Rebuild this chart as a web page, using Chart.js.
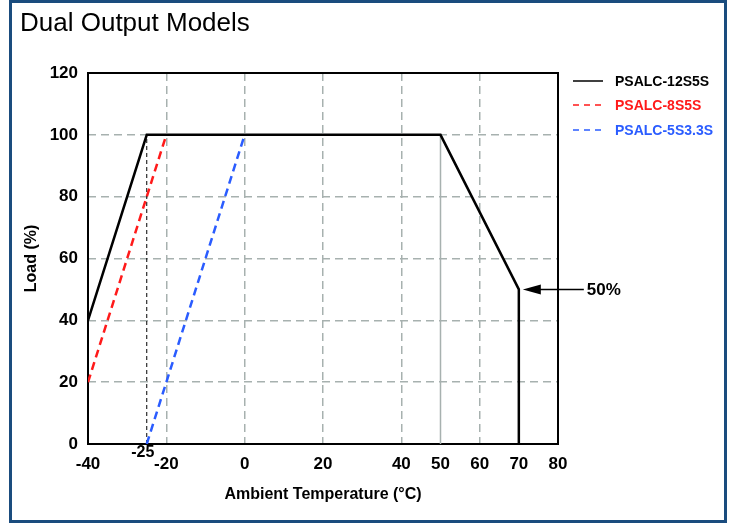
<!DOCTYPE html>
<html>
<head>
<meta charset="utf-8">
<title>Dual Output Models</title>
<script src="https://cdn.jsdelivr.net/npm/chart.js@4.4.1/dist/chart.umd.min.js"></script>
<style>
    html, body { margin: 0; padding: 0; background: #fff; }
    .wrap { position: relative; width: 733px; height: 523px; }
    .frame {
        position: absolute; left: 9px; top: 0; width: 712px; height: 517px;
        border: 3px solid #1a4c7e; pointer-events: none;
    }
    canvas { position: absolute; left: 0; top: 0; }
</style>
</head>
<body>
<div class="wrap">
    <canvas id="derating" width="733" height="523"></canvas>
    <div class="frame"></div>
</div>
<script>
// values
const chartTitle = 'Dual Output Models';
const seriesNames = ['PSALC-12S5S', 'PSALC-8S5S', 'PSALC-5S3.3S'];
const seriesColors = ['#000000', '#ff1a1a', '#2a5cff'];

const temp12 = [-40, -25, 50, 70, 70];
const load12 = [40, 100, 100, 50, 0];
const temp8 = [-40, -20];
const load8 = [20, 100];
const temp5 = [-25, 0];
const load5 = [0, 100];

// helper lines: drop at -25 °C and full-load limit at 50 °C
const dropTemp = [-25, -25];
const dropLoad = [0, 100];
const limitTemp = [50, 50];
const limitLoad = [0, 100];

const xTicks = [-40, -20, 0, 20, 40, 50, 60, 70, 80];
const yTicks = [0, 20, 40, 60, 80, 100, 120];
const hiddenXGrid = [-40, 50, 70, 80];
const extraXLabel = { value: -25, text: '-25' };
const arrowPoint = { x: 70, y: 50, text: '50%' };

const FONT = '"Liberation Sans", Arial, Helvetica, sans-serif';
const GRID = '#a7b1af';

const toPoints = (xs, ys) => xs.map((x, i) => ({ x, y: ys[i] }));

const extras = {
    id: 'extras',
    beforeDatasetsDraw(chart) {
        const { ctx, chartArea: a } = chart;
        ctx.save();
        ctx.strokeStyle = '#000';
        ctx.lineWidth = 2;
        ctx.strokeRect(a.left, a.top, a.right - a.left, a.bottom - a.top);
        ctx.restore();
    },
    afterDraw(chart) {
        const { ctx, scales } = chart;
        const x = scales.x;
        const y = scales.y;
        ctx.save();

        // title
        ctx.fillStyle = '#000';
        ctx.font = `26px ${FONT}`;
        ctx.textAlign = 'left';
        ctx.textBaseline = 'middle';
        ctx.fillText(chartTitle, 20, 24);

        // extra -25 label under the drop line
        ctx.font = `bold 16px ${FONT}`;
        ctx.textAlign = 'center';
        ctx.fillText(extraXLabel.text, x.getPixelForValue(extraXLabel.value) - 4, y.bottom + 9);

        // arrow pointing at the 50 % corner
        const tipX = x.getPixelForValue(arrowPoint.x) + 4;
        const tipY = y.getPixelForValue(arrowPoint.y);
        ctx.strokeStyle = '#000';
        ctx.lineWidth = 1.5;
        ctx.beginPath();
        ctx.moveTo(tipX + 12, tipY);
        ctx.lineTo(tipX + 61, tipY);
        ctx.stroke();
        ctx.beginPath();
        ctx.moveTo(tipX, tipY);
        ctx.lineTo(tipX + 18, tipY - 5);
        ctx.lineTo(tipX + 18, tipY + 5);
        ctx.closePath();
        ctx.fill();
        ctx.font = `bold 17px ${FONT}`;
        ctx.textAlign = 'left';
        ctx.fillText(arrowPoint.text, tipX + 64, tipY + 1);

        // legend
        const legendX = 573;
        const legendY = [81, 105, 130];
        chart.data.datasets.slice(0, 3).forEach((ds, i) => {
            ctx.strokeStyle = ds.borderColor;
            ctx.lineWidth = 1.5;
            ctx.setLineDash(i === 0 ? [] : [6, 5]);
            ctx.beginPath();
            ctx.moveTo(legendX, legendY[i]);
            ctx.lineTo(legendX + 30, legendY[i]);
            ctx.stroke();
            ctx.setLineDash([]);
            ctx.fillStyle = ds.borderColor;
            ctx.font = `bold 14px ${FONT}`;
            ctx.fillText(ds.label, legendX + 42, legendY[i] + 1);
        });
        ctx.restore();
    },
};

new Chart(document.getElementById('derating'), {
    type: 'line',
    data: {
        datasets: [
            {
                label: seriesNames[0],
                data: toPoints(temp12, load12),
                borderColor: seriesColors[0],
                borderWidth: 2.5,
                borderJoinStyle: 'miter',
                pointRadius: 0,
                order: 1,
            },
            {
                label: seriesNames[1],
                data: toPoints(temp8, load8),
                borderColor: seriesColors[1],
                borderWidth: 2.5,
                borderDash: [8, 5],
                pointRadius: 0,
                order: 2,
            },
            {
                label: seriesNames[2],
                data: toPoints(temp5, load5),
                borderColor: seriesColors[2],
                borderWidth: 2.5,
                borderDash: [8, 5],
                pointRadius: 0,
                order: 3,
            },
            {
                label: 'drop',
                data: toPoints(dropTemp, dropLoad),
                borderColor: '#000',
                borderWidth: 1,
                borderDash: [4, 3],
                pointRadius: 0,
                order: 4,
            },
            {
                label: 'limit',
                data: toPoints(limitTemp, limitLoad),
                borderColor: GRID,
                borderWidth: 1.5,
                pointRadius: 0,
                order: 5,
            },
        ],
    },
    options: {
        responsive: false,
        animation: false,
        events: [],
        layout: {
            padding: { left: 20, top: 73, right: 175, bottom: 10 },
        },
        plugins: {
            legend: { display: false },
            tooltip: { enabled: false },
        },
        scales: {
            x: {
                type: 'linear',
                min: -40,
                max: 80,
                afterBuildTicks: (scale) => {
                    scale.ticks = xTicks.map((value) => ({ value }));
                },
                afterFit: (scale) => {
                    scale.height = 69;
                },
                ticks: {
                    color: '#000',
                    padding: 10,
                    maxRotation: 0,
                    autoSkip: false,
                    font: { family: FONT, size: 17, weight: 'bold' },
                },
                grid: {
                    drawTicks: false,
                    lineWidth: 1.5,
                    color: (ctx) => (hiddenXGrid.includes(ctx.tick && ctx.tick.value) ? 'rgba(0,0,0,0)' : GRID),
                },
                border: { display: false, dash: [8, 5] },
                title: {
                    display: true,
                    text: 'Ambient Temperature (°C)',
                    color: '#000',
                    padding: { top: 0, bottom: 9 },
                    font: { family: FONT, size: 16, weight: 'bold' },
                },
            },
            y: {
                min: 0,
                max: 120,
                afterBuildTicks: (scale) => {
                    scale.ticks = yTicks.map((value) => ({ value }));
                },
                afterFit: (scale) => {
                    scale.width = 68;
                },
                ticks: {
                    color: '#000',
                    padding: 10,
                    font: { family: FONT, size: 17, weight: 'bold' },
                },
                grid: {
                    drawTicks: false,
                    lineWidth: 1.5,
                    color: (ctx) => {
                        const v = ctx.tick && ctx.tick.value;
                        return v === 0 || v === 120 ? 'rgba(0,0,0,0)' : GRID;
                    },
                },
                border: { display: false, dash: [8, 5] },
                title: {
                    display: true,
                    text: 'Load (%)',
                    color: '#000',
                    padding: { top: 2, bottom: 0 },
                    font: { family: FONT, size: 16, weight: 'bold' },
                },
            },
        },
    },
    plugins: [extras],
});
</script>
</body>
</html>
